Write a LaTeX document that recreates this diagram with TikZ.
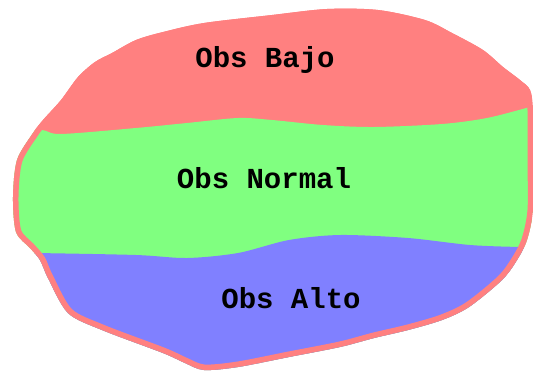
\documentclass[tikz,border=0pt]{standalone}
\usepackage{fontspec}
\setmonofont{Liberation Mono}
\definecolor{lowred}{HTML}{FF8080}
\definecolor{midgreen}{HTML}{80FF80}
\definecolor{highblue}{HTML}{8080FF}
\tikzset{
  zonelabel/.style={font=\ttfamily\bfseries\fontsize{29}{29}\selectfont, text=black, inner sep=0pt}
}
% outer outline of the whole region
\def\blob{plot[smooth cycle, tension=0.5] coordinates {
  (272,15) (327,9) (378,10) (425,20) (452,33) (483,50) (503,67) (520,80)
  (530,90) (533,110) (533,160) (533,210) (527,240) (517,260) (502,280)
  (469,307) (442,320) (408,330) (374,338) (340,347) (289,357) (238,367)
  (204,370) (185,363) (163,353) (102,330) (68,313) (48,278) (40,260)
  (30,248) (16,232) (13,197) (17,160) (33,133) (43,120) (61,100)
  (78,77) (95,62) (112,53) (136,40) (163,32) (204,23)}}
\begin{document}
\begin{tikzpicture}[x=1pt, y=-1pt]
\useasboundingbox (0,0) rectangle (533,373);
\fill[lowred] \blob;
\begin{scope}
  \clip \blob;
  % middle band
  \fill[midgreen] plot[smooth, tension=0.5] coordinates {
    (0,131) (41,130) (61,134) (136,128) (187,123) (238,118) (272,120)
    (323,125) (374,127) (442,124) (487,118) (530,107) (545,103)}
    -- (545,380) -- (0,380) -- cycle;
  % lower band
  \fill[highblue] plot[smooth, tension=0.5] coordinates {
    (0,253) (35,253) (136,255) (187,258) (238,253) (289,240) (340,235)
    (408,238) (470,245) (520,247) (545,247)}
    -- (545,380) -- (0,380) -- cycle;
  % inner rim
  \draw[lowred, line width=11pt] \blob;
\end{scope}
\node[zonelabel] (bajo) at (265,60) {Obs Bajo};
\node[zonelabel] (normal) at (264,178) {Obs Normal};
\node[zonelabel] (alto) at (291,298) {Obs Alto};
\end{tikzpicture}
\end{document}
